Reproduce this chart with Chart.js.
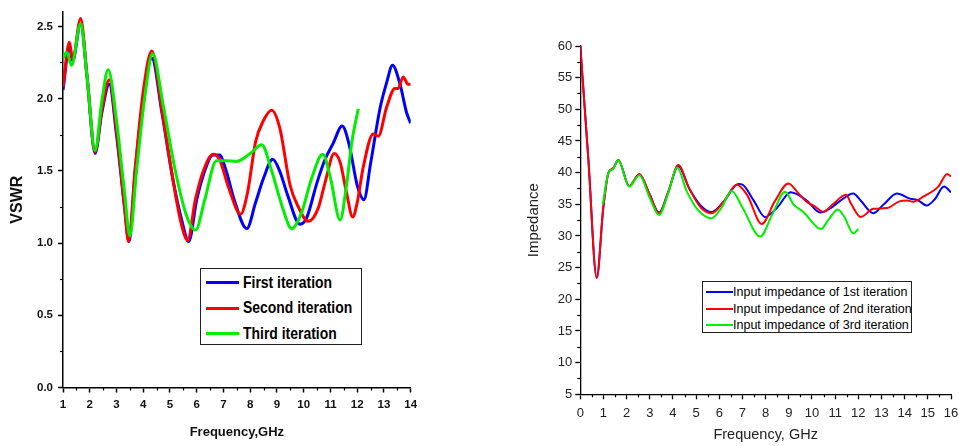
<!DOCTYPE html>
<html>
<head>
<meta charset="utf-8">
<script src="https://cdn.jsdelivr.net/npm/chart.js@4.4.1/dist/chart.umd.min.js"></script>
<style>
  body { margin: 0; background: #fff; width: 959px; height: 446px; overflow: hidden; position: relative; }
  #vswr-wrap { position: absolute; left: 0; top: 0; width: 440px; height: 446px; }
  #imp-wrap { position: absolute; left: 480px; top: 0; width: 479px; height: 446px; }
  .legend { position: absolute; border: 1px solid #222; background: #fff; box-sizing: border-box; }
  .legend .row { position: absolute; left: 0; right: 0; height: 0; }
  .legend .swatch { position: absolute; }
  .legend .txt { position: absolute; white-space: nowrap; color: #000; transform-origin: 0 50%; }
  #vswr-legend { left: 200px; top: 268px; width: 162px; height: 77px; font: bold 17px 'Liberation Sans', Arial, sans-serif; }
  #vswr-legend .txt { transform: translateY(-50%) scaleX(0.82); }
  #imp-legend { left: 702px; top: 281px; width: 210px; height: 52px; font: 12.5px 'Liberation Sans', Arial, sans-serif; }
  #imp-legend .txt { transform: translateY(-50%); }
</style>
</head>
<body>
<div id="vswr-wrap"><canvas id="vswr-chart"></canvas></div>
<div id="imp-wrap"><canvas id="imp-chart"></canvas></div>
<div class="legend" id="vswr-legend"></div>
<div class="legend" id="imp-legend"></div>
<script>
// ---- left chart: VSWR vs frequency (GHz)
const vswrLabels = ['First iteration', 'Second iteration', 'Third iteration'];
const vswrTicksY = [0, 0.5, 1.0, 1.5, 2.0, 2.5];
const vswrFreqFirst = [1.0, 1.24, 1.36, 1.66, 1.9, 2.2, 2.45, 2.73, 3.0, 3.3, 3.47, 3.7, 4.0, 4.32, 4.7, 5.1, 5.45, 5.7, 6.0, 6.3, 6.6, 6.85, 7.1, 7.4, 7.87, 8.2, 8.5, 8.84, 9.1, 9.4, 9.86, 10.1, 10.5, 10.8, 11.1, 11.44, 11.7, 12.0, 12.25, 12.5, 12.85, 13.1, 13.32, 13.6, 13.85, 14.0];
const vswrFirst =     [2.06, 2.36, 2.26, 2.52, 2.15, 1.62, 1.90, 2.10, 1.75, 1.25, 1.01, 1.50, 2.00, 2.28, 1.90, 1.45, 1.15, 1.01, 1.30, 1.50, 1.61, 1.61, 1.50, 1.30, 1.10, 1.28, 1.45, 1.58, 1.50, 1.33, 1.13, 1.17, 1.42, 1.58, 1.69, 1.81, 1.68, 1.40, 1.30, 1.55, 1.93, 2.11, 2.23, 2.10, 1.90, 1.83];
const vswrFreqSecond = [1.0, 1.24, 1.36, 1.66, 1.9, 2.2, 2.45, 2.73, 3.0, 3.3, 3.45, 3.7, 4.0, 4.32, 4.7, 5.1, 5.4, 5.66, 5.95, 6.25, 6.62, 6.85, 7.2, 7.64, 7.9, 8.2, 8.5, 8.8, 9.1, 9.49, 9.8, 10.17, 10.54, 10.8, 11.14, 11.36, 11.6, 11.83, 12.0, 12.22, 12.6, 12.79, 13.1, 13.41, 13.53, 13.72, 13.9, 14.0];
const vswrSecond =     [2.08, 2.39, 2.27, 2.555, 2.15, 1.63, 1.92, 2.13, 1.78, 1.25, 1.01, 1.52, 2.05, 2.33, 1.92, 1.45, 1.15, 1.02, 1.30, 1.50, 1.615, 1.58, 1.38, 1.20, 1.35, 1.70, 1.85, 1.92, 1.80, 1.40, 1.25, 1.15, 1.24, 1.42, 1.62, 1.56, 1.35, 1.18, 1.28, 1.52, 1.755, 1.74, 1.94, 2.07, 2.07, 2.15, 2.10, 2.10];
const vswrFreqThird = [1.0, 1.14, 1.32, 1.66, 1.9, 2.2, 2.45, 2.69, 3.0, 3.3, 3.5, 3.75, 4.05, 4.35, 4.75, 5.2, 5.6, 5.96, 6.3, 6.74, 7.1, 7.49, 8.0, 8.43, 8.8, 9.2, 9.55, 9.9, 10.3, 10.71, 11.0, 11.36, 11.6, 11.8, 12.04];
const vswrThird =     [2.28, 2.32, 2.23, 2.52, 2.15, 1.64, 1.98, 2.20, 1.85, 1.35, 1.05, 1.50, 2.00, 2.31, 1.95, 1.50, 1.20, 1.09, 1.30, 1.57, 1.57, 1.565, 1.62, 1.68, 1.50, 1.25, 1.10, 1.20, 1.45, 1.615, 1.45, 1.16, 1.40, 1.70, 1.93];

// ---- right chart: input impedance vs frequency (GHz)
const impLabels = ['Input impedance of 1st iteration', 'Input impedance of 2nd iteration', 'Input impedance of 3rd iteration'];
const impFreqFirst = [0, 0.35, 0.71, 0.99, 1.21, 1.42, 1.64, 2.11, 2.55, 3.0, 3.4, 3.8, 4.23, 4.7, 5.2, 5.67, 6.2, 6.82, 7.0, 7.5, 7.97, 8.5, 9.08, 9.77, 10.35, 10.8, 11.2, 11.78, 12.1, 12.65, 13.1, 13.66, 14.23, 14.59, 14.95, 15.3, 15.7, 16.0];
const impFirst =     [60, 42, 23.4, 34.4, 39.9, 40.7, 42.0, 37.9, 39.7, 36.5, 33.7, 37.0, 41.0, 37.5, 34.8, 33.8, 35.5, 38.2, 38.1, 35.5, 33.0, 34.5, 36.9, 35.6, 33.7, 34.4, 35.5, 36.7, 35.6, 33.6, 35.0, 36.7, 35.9, 35.6, 34.8, 35.8, 37.8, 36.9];
const impFreqSecond = [0, 0.35, 0.71, 0.99, 1.21, 1.42, 1.64, 2.11, 2.55, 3.0, 3.4, 3.8, 4.23, 4.7, 5.2, 5.67, 6.2, 6.75, 7.2, 7.83, 8.4, 8.98, 9.4, 9.77, 10.1, 10.49, 10.9, 11.47, 11.7, 12.1, 12.65, 13.22, 13.8, 14.1, 14.37, 14.8, 15.45, 15.84, 16.0];
const impSecond =     [60, 42, 23.4, 34.4, 39.9, 40.7, 42.0, 37.9, 39.8, 36.5, 33.6, 37.0, 41.2, 37.5, 34.5, 33.6, 35.5, 38.1, 36.5, 31.9, 35.5, 38.3, 36.8, 35.4, 34.7, 33.8, 35.0, 36.5, 35.0, 33.0, 34.3, 34.4, 35.5, 35.6, 35.4, 36.2, 37.8, 39.8, 39.4];
const impFreqThird = [0.97, 1.21, 1.42, 1.64, 2.11, 2.55, 3.0, 3.4, 3.8, 4.18, 4.6, 5.1, 5.67, 6.1, 6.53, 7.0, 7.76, 8.3, 8.84, 9.2, 9.63, 10.39, 10.7, 11.11, 11.4, 11.78, 12.0];
const impThird =     [35.0, 39.9, 40.6, 42.0, 37.8, 39.6, 36.0, 33.3, 36.8, 40.8, 37.0, 34.0, 32.8, 34.5, 37.1, 34.5, 29.9, 33.5, 37.0, 35.0, 33.8, 31.1, 32.5, 34.2, 33.0, 30.4, 31.1];

const seriesColors = ['#0000ff', '#ff0000', '#00ee00'];

function pts(xs, ys) { return xs.map((x, i) => ({ x: x, y: ys[i] })); }

// short minor ticks half way between the labelled ones
function minorTicks(defs) {
  return {
    id: 'minorTicks',
    afterDraw(chart) {
      const ctx = chart.ctx;
      ctx.save();
      ctx.strokeStyle = '#000';
      ctx.lineWidth = 1.2;
      defs.forEach(d => {
        const s = chart.scales[d.axis];
        for (let v = d.from; v <= d.to + 1e-9; v += d.step) {
          const p = Math.round(s.getPixelForValue(v)) + 0.5;
          ctx.beginPath();
          if (s.isHorizontal()) { ctx.moveTo(p, s.top); ctx.lineTo(p, s.top + d.len); }
          else { ctx.moveTo(s.right, p); ctx.lineTo(s.right - d.len, p); }
          ctx.stroke();
        }
      });
      ctx.restore();
    }
  };
}

const sans = "'Liberation Sans', Arial, sans-serif";

function axisGrid(w) {
  return { drawOnChartArea: false, drawTicks: true, tickLength: 5, tickWidth: w, tickColor: '#000' };
}

function lineSet(label, data, color, width, order) {
  return {
    label: label, data: data, borderColor: color, backgroundColor: color,
    borderWidth: width, pointRadius: 0, fill: false, order: order,
    cubicInterpolationMode: 'monotone'
  };
}

new Chart(document.getElementById('vswr-chart').getContext('2d'), {
  type: 'line',
  data: {
    datasets: [
      lineSet(vswrLabels[0], pts(vswrFreqFirst, vswrFirst), seriesColors[0], 3, 2),
      lineSet(vswrLabels[1], pts(vswrFreqSecond, vswrSecond), seriesColors[1], 3, 1),
      lineSet(vswrLabels[2], pts(vswrFreqThird, vswrThird), seriesColors[2], 3, 0)
    ]
  },
  options: {
    responsive: true,
    maintainAspectRatio: false,
    animation: false,
    events: [],
    layout: { padding: { top: 10, right: 29.3, left: 0, bottom: 0 } },
    plugins: { legend: { display: false }, tooltip: { enabled: false } },
    scales: {
      x: {
        type: 'linear', min: 1, max: 14,
        afterFit(s) { s.height = 58.5; s.paddingLeft = 0; s.paddingRight = 0; },
        ticks: { stepSize: 1, padding: 5, color: '#111', font: { family: sans, size: 11.5, weight: 'bold' } },
        grid: axisGrid(1.5),
        border: { color: '#000', width: 1.5 },
        title: { display: true, text: 'Frequency,GHz', color: '#111', padding: { bottom: 6 }, font: { family: sans, size: 13, weight: 'bold' } }
      },
      y: {
        type: 'linear', min: 0, max: 2.6,
        afterFit(s) { s.width = 63; },
        afterBuildTicks(s) { s.ticks = vswrTicksY.map(v => ({ value: v })); },
        ticks: { padding: 5, color: '#111', callback: v => Number(v).toFixed(1), font: { family: sans, size: 11.5, weight: 'bold' } },
        grid: axisGrid(1.5),
        border: { color: '#000', width: 1.5 },
        title: { display: true, text: 'VSWR', color: '#111', padding: { top: 8 }, font: { family: sans, size: 16, weight: 'bold' } }
      }
    }
  },
  plugins: [minorTicks([
    { axis: 'x', from: 1.5, to: 13.5, step: 1, len: 3 },
    { axis: 'y', from: 0.25, to: 2.25, step: 0.5, len: 3 }
  ])]
});

new Chart(document.getElementById('imp-chart').getContext('2d'), {
  type: 'line',
  data: {
    datasets: [
      lineSet(impLabels[0], pts(impFreqFirst, impFirst), seriesColors[0], 2, 2),
      lineSet(impLabels[1], pts(impFreqSecond, impSecond), seriesColors[1], 2, 1),
      lineSet(impLabels[2], pts(impFreqThird, impThird), seriesColors[2], 2, 0)
    ]
  },
  options: {
    responsive: true,
    maintainAspectRatio: false,
    animation: false,
    events: [],
    layout: { padding: { top: 46, right: 8, left: 0, bottom: 0 } },
    plugins: { legend: { display: false }, tooltip: { enabled: false } },
    scales: {
      x: {
        type: 'linear', min: 0, max: 16,
        afterFit(s) { s.height = 51.7; s.paddingLeft = 0; s.paddingRight = 0; },
        ticks: { stepSize: 1, padding: 6, color: '#222', font: { family: sans, size: 13 } },
        grid: axisGrid(1.3),
        border: { color: '#000', width: 1.3 },
        title: { display: true, text: 'Frequency, GHz', color: '#222', padding: { bottom: 2 }, font: { family: sans, size: 14.5 } }
      },
      y: {
        type: 'linear', min: 5, max: 60,
        afterFit(s) { s.width = 100.3; },
        ticks: { stepSize: 5, padding: 3, color: '#222', font: { family: sans, size: 13 } },
        grid: axisGrid(1.3),
        border: { color: '#000', width: 1.3 },
        title: { display: true, text: 'Impedance', color: '#222', padding: { top: 45 }, font: { family: sans, size: 15 } }
      }
    }
  },
  plugins: [minorTicks([
    { axis: 'x', from: 0.5, to: 15.5, step: 1, len: 3 },
    { axis: 'y', from: 7.5, to: 57.5, step: 5, len: 3 }
  ])]
});

// legends drawn as html boxes inside the plot areas
function buildLegend(id, labels, rowsY, lineX, lineW, textX, lineH) {
  const box = document.getElementById(id);
  labels.forEach((lab, i) => {
    const row = document.createElement('div');
    row.className = 'row';
    row.style.top = rowsY[i] + 'px';
    const sw = document.createElement('div');
    sw.className = 'swatch';
    sw.style.left = lineX + 'px';
    sw.style.width = lineW + 'px';
    sw.style.height = lineH + 'px';
    sw.style.top = (-lineH / 2) + 'px';
    sw.style.background = seriesColors[i];
    const tx = document.createElement('div');
    tx.className = 'txt';
    tx.style.left = textX + 'px';
    tx.textContent = lab;
    row.appendChild(sw);
    row.appendChild(tx);
    box.appendChild(row);
  });
}
buildLegend('vswr-legend', vswrLabels, [13.5, 39, 64.5], 5, 33, 42, 3);
buildLegend('imp-legend', impLabels, [9.5, 26.5, 43], 3, 27, 30, 2);
</script>
</body>
</html>
